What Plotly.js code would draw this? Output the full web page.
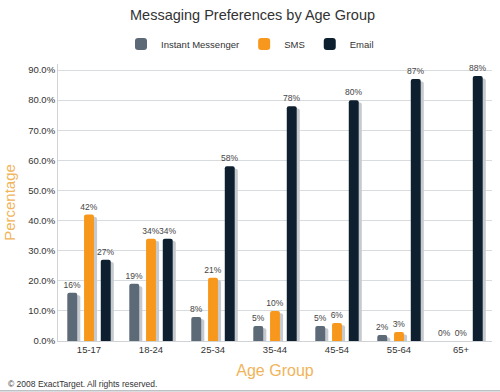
<!DOCTYPE html>
<html><head><meta charset="utf-8">
<script src="https://cdn.plot.ly/plotly-3.0.1.min.js"></script>
<style>html,body{margin:0;padding:0;background:#fff}#chart{width:500px;height:392px}</style>
</head><body><div id="chart"></div>
<script>
const ageGroups = ["15-17","18-24","25-34","35-44","45-54","55-64","65+"];
const instantMessenger = [16,19,8,5,5,2,0];
const sms = [42,34,21,10,6,3,0];
const email = [27,34,58,78,80,87,88];
const yTickVals = [0,10,20,30,40,50,60,70,80,90];
const yTickText = ["0.0%","10.0%","20.0%","30.0%","40.0%","50.0%","60.0%","70.0%","80.0%","90.0%"];

const series = [
  {name:"Instant Messenger", y:instantMessenger, color:"#5c6977", off:-0.35},
  {name:"SMS", y:sms, color:"#f7981d", off:-0.08},
  {name:"Email", y:email, color:"#0e2030", off:0.19}
];
const W = 0.16;
const FONT = "Liberation Sans, Arial, sans-serif";
const traces = [];
series.forEach(s => {
  traces.push({type:"bar", x:ageGroups, y:s.y.map(v=>Math.max(v-0.8,0)), width:W, offset:s.off+0.05,
    marker:{color:"#c6cacf", cornerradius:2}, showlegend:false, hoverinfo:"skip"});
});
series.forEach(s => {
  traces.push({type:"bar", name:s.name, x:ageGroups, y:s.y, width:W, offset:s.off,
    marker:{color:s.color, cornerradius:2},
    text:s.y.map(v=>v+"%"), textposition:"outside", cliponaxis:false, constraintext:"none",
    textfont:{family:FONT, size:8.5, color:"#444"}});
});

const layout = {
  width:500, height:392,
  margin:{l:58, r:8, t:64, b:51},
  barmode:"overlay",
  paper_bgcolor:"#fff", plot_bgcolor:"#fff",
  title:{text:"Messaging Preferences by Age Group", font:{family:FONT, size:14.5, color:"#333"},
    x:0.505, xref:"container", y:0.963, yref:"container", yanchor:"middle"},
  showlegend:true,
  legend:{orientation:"h", x:0.5, xanchor:"center", xref:"container", y:0.888, yref:"container", yanchor:"middle",
    font:{family:FONT, size:9.5, color:"#333"}, traceorder:"normal", itemwidth:30},
  xaxis:{type:"category", showgrid:false, showline:true, linecolor:"#cfd3d6", linewidth:1,
    ticks:"", tickfont:{family:FONT, size:9.5, color:"#333"},
    title:{text:"Age Group", font:{family:FONT, size:16, color:"#f0b45a"}, standoff:10}},
  yaxis:{range:[0,92], tickvals:yTickVals, ticktext:yTickText, showgrid:true, gridcolor:"#d9dcde", gridwidth:1,
    showline:true, linecolor:"#cfd3d6", zeroline:false, ticks:"",
    tickfont:{family:FONT, size:9.5, color:"#333"},
    title:{text:"Percentage", font:{family:FONT, size:15, color:"#f0b45a"}, standoff:8}},
  annotations:[{text:"© 2008 ExactTarget. All rights reserved.", xref:"paper", yref:"paper",
    x:-0.12, y:-0.155, xanchor:"left", yanchor:"middle", showarrow:false,
    font:{family:FONT, size:8.5, color:"#333"}}],
  shapes:[{type:"line", xref:"paper", yref:"paper", x0:-0.134, x1:1.02, y0:-0.18, y1:-0.18,
    line:{color:"#9aa0a6", width:1}}]
};
Plotly.newPlot("chart", traces, layout, {displayModeBar:false, staticPlot:true});
</script></body></html>
